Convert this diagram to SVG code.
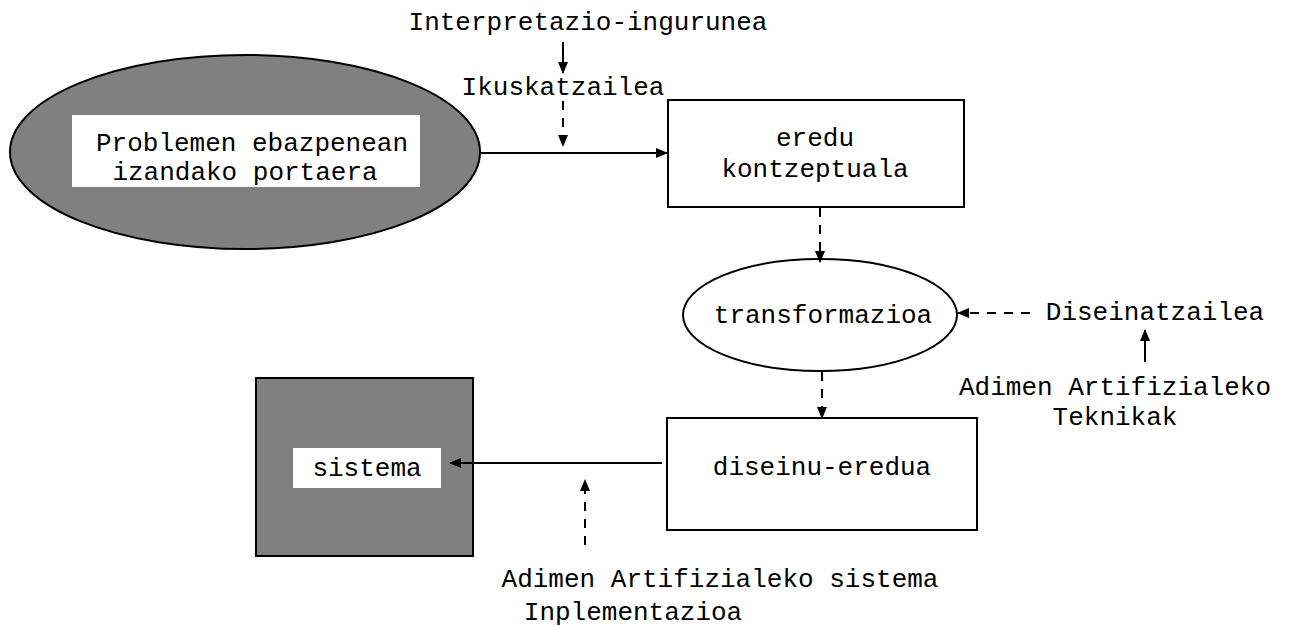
<svg xmlns="http://www.w3.org/2000/svg" width="1292" height="626" viewBox="0 0 1292 626">
<style>
text{font-family:"Liberation Mono","Courier New",monospace;font-size:26px;fill:#000;text-anchor:middle}
.ln{stroke:#000;stroke-width:2;fill:none}
.d{stroke-dasharray:9,8}
.box{fill:#fff;stroke:#000;stroke-width:2}
.gray{fill:#808080;stroke:#000;stroke-width:2}
</style>
<defs>
<marker id="ah" markerWidth="12" markerHeight="10" refX="11" refY="5" orient="auto" markerUnits="userSpaceOnUse">
<path d="M0,0 L12,5 L0,10 z" fill="#000"/>
</marker>
</defs>
<rect width="1292" height="626" fill="#fff"/>
<g id="n-portaera">
<ellipse class="gray" cx="245" cy="152" rx="235" ry="97"/>
<rect x="72" y="115" width="348" height="72" fill="#fff"/>
<text x="252" y="151">Problemen ebazpenean</text>
<text x="245" y="180">izandako portaera</text>
</g>
<g id="n-eredu">
<rect class="box" x="668" y="100" width="296" height="107"/>
<text x="815" y="146">eredu</text>
<text x="815" y="177">kontzeptuala</text>
</g>
<g id="n-transf">
<ellipse class="box" cx="820" cy="315" rx="137" ry="56"/>
<text x="823" y="323">transformazioa</text>
</g>
<g id="n-diseinu">
<rect class="box" x="667" y="418" width="310" height="112"/>
<text x="822" y="475">diseinu-eredua</text>
</g>
<g id="n-sistema">
<rect class="gray" x="256" y="378" width="217" height="178"/>
<rect x="293" y="448" width="148" height="40" fill="#fff"/>
<text x="367" y="476">sistema</text>
</g>
<g id="labels">
<text x="588" y="30">Interpretazio-ingurunea</text>
<text x="563" y="95">Ikuskatzailea</text>
<text x="1155" y="320">Diseinatzailea</text>
<text x="1115" y="395">Adimen Artifizialeko</text>
<text x="1115" y="425">Teknikak</text>
<text x="720" y="587">Adimen Artifizialeko sistema</text>
<text x="633" y="620">Inplementazioa</text>
</g>
<g id="connectors">
<line class="ln" x1="563" y1="42" x2="563" y2="73" marker-end="url(#ah)"/>
<line class="ln d" x1="563" y1="101" x2="563" y2="146" marker-end="url(#ah)"/>
<line class="ln" x1="481" y1="153" x2="667" y2="153" marker-end="url(#ah)"/>
<line class="ln d" x1="820" y1="208" x2="820" y2="262" marker-end="url(#ah)"/>
<line class="ln d" x1="822" y1="372" x2="822" y2="418" marker-end="url(#ah)"/>
<line class="ln d" x1="1030" y1="313" x2="958" y2="313" marker-end="url(#ah)"/>
<line class="ln" x1="1145" y1="362" x2="1145" y2="330" marker-end="url(#ah)"/>
<line class="ln" x1="662" y1="463" x2="450" y2="463" marker-end="url(#ah)"/>
<line class="ln d" x1="585" y1="545" x2="585" y2="480" marker-end="url(#ah)"/>
</g>
</svg>
